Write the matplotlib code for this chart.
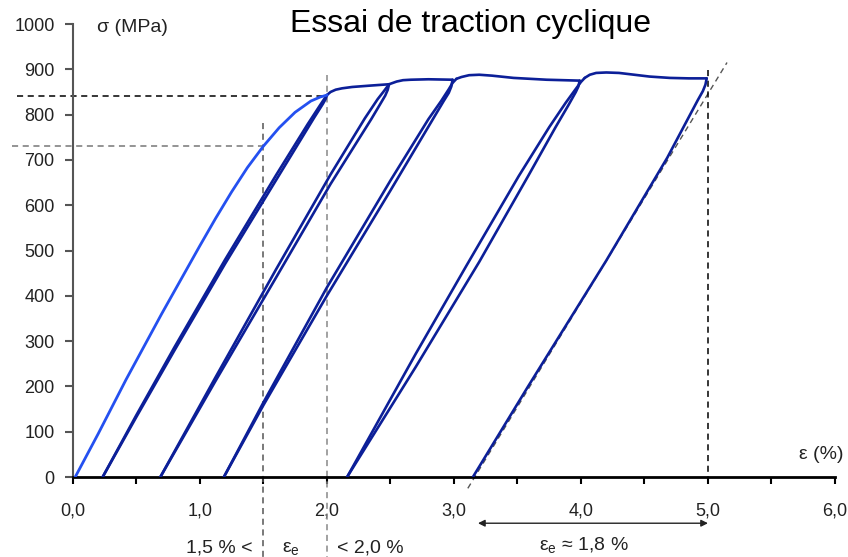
import matplotlib
matplotlib.use("Agg")
import matplotlib.pyplot as plt

plt.rcParams['font.family'] = ['Liberation Sans', 'DejaVu Sans']
plt.rcParams['mathtext.default'] = 'regular'

# first loading (light blue)
load1_eps = [0.02, 0.20, 0.42, 0.70, 1.00, 1.125, 1.25, 1.375, 1.50, 1.625, 1.75, 1.875, 1.95, 2.00]
load1_sig = [0, 95, 215, 360, 510, 571, 629, 683, 730, 771, 805, 830, 839, 843]

# unload / reload loops and plastic plateaus (dark blue)
unload1_eps = [2.00, 1.99, 1.97, 1.90, 1.60, 1.20, 0.80, 0.50, 0.236]
unload1_sig = [843, 834, 824, 793, 655, 471, 279, 132, 0]
reload1_eps = [0.236, 0.50, 0.80, 1.20, 1.60, 1.85, 1.95, 2.00]
reload1_sig = [0, 136, 286, 480, 666, 779, 822, 843]
plateau1_eps = [2.00, 2.03, 2.07, 2.12, 2.20, 2.34, 2.49]
plateau1_sig = [843, 850, 855, 858, 861, 864, 867]

unload2_eps = [2.49, 2.48, 2.46, 2.42, 2.35, 2.03, 1.60, 1.12, 0.69]
unload2_sig = [867, 855, 842, 823, 790, 647, 440, 210, 0]
reload2_eps = [0.69, 1.12, 1.60, 2.03, 2.30, 2.40, 2.45, 2.49]
reload2_sig = [0, 218, 458, 668, 792, 834, 852, 867]
plateau2_eps = [2.49, 2.51, 2.55, 2.60, 2.66, 2.80, 2.99]
plateau2_sig = [867, 869, 873, 876, 877, 878, 877]

unload3_eps = [2.99, 2.98, 2.96, 2.92, 2.50, 2.00, 1.50, 1.19]
unload3_sig = [877, 862, 848, 830, 632, 400, 158, 0]
reload3_eps = [1.19, 1.50, 2.00, 2.50, 2.80, 2.90, 2.96, 2.99, 3.02]
reload3_sig = [0, 164, 418, 654, 790, 830, 856, 870, 879]
plateau3_eps = [3.02, 3.06, 3.12, 3.20, 3.30, 3.47, 3.73, 3.99]
plateau3_sig = [879, 883, 887, 888, 886, 881, 877, 875]

unload4_eps = [3.99, 3.98, 3.96, 3.90, 3.80, 3.59, 3.20, 2.70, 2.16]
unload4_sig = [875, 862, 850, 820, 772, 667, 475, 243, 0]
reload4_eps = [2.16, 2.70, 3.10, 3.51, 3.75, 3.88, 3.95, 4.00, 4.03]
reload4_sig = [0, 272, 467, 664, 772, 826, 853, 872, 881]
plateau4_eps = [4.03, 4.07, 4.12, 4.20, 4.30, 4.42, 4.54, 4.70, 4.85, 4.99]
plateau4_sig = [881, 888, 892, 893, 892, 888, 884, 881, 880, 880]

unload5_eps = [4.99, 4.98, 4.96, 4.92, 4.68, 4.20, 3.58, 3.15]
unload5_sig = [880, 866, 852, 832, 705, 478, 198, 0]

# elastic tangent (dashed) at the last unload
tangent_eps = [3.11, 5.15]
tangent_sig = [-25, 915]

x_ticks = [0, 1, 2, 3, 4, 5, 6]
x_labels = ["0,0", "1,0", "2,0", "3,0", "4,0", "5,0", "6,0"]
y_ticks = list(range(0, 1001, 100))

light = '#2450f0'
dark = '#0c1f98'

fig = plt.figure(figsize=(8.48, 5.57), dpi=100)
ax = fig.add_axes([0.0857, 0.1436, 0.899, 0.8133])

ax.plot(load1_eps, load1_sig, color=light, lw=2.0, zorder=4, solid_joinstyle='round')
dark_segments = [
    (unload1_eps, unload1_sig), (reload1_eps, reload1_sig), (plateau1_eps, plateau1_sig),
    (unload2_eps, unload2_sig), (reload2_eps, reload2_sig), (plateau2_eps, plateau2_sig),
    (unload3_eps, unload3_sig), (reload3_eps, reload3_sig), (plateau3_eps, plateau3_sig),
    (unload4_eps, unload4_sig), (reload4_eps, reload4_sig), (plateau4_eps, plateau4_sig),
    (unload5_eps, unload5_sig),
]
for e, s in dark_segments:
    ax.plot(e, s, color=dark, lw=1.9, zorder=3, solid_joinstyle='round', solid_capstyle='round')

dash = (0, (4, 3))
ax.plot(tangent_eps, tangent_sig, color='#555555', lw=1, ls=dash, clip_on=False, zorder=2)

# guide lines
ax.plot([-0.44, 2.0], [842, 842], color='black', lw=1.1, ls=dash, clip_on=False)
ax.plot([-0.48, 1.53], [731, 731], color='#777777', lw=1.1, ls=dash, clip_on=False)
ax.plot([1.5, 1.5], [782, -180], color='#555555', lw=1.1, ls=dash, clip_on=False)
ax.plot([2.0, 2.0], [887, -180], color='#888888', lw=1.1, ls=dash, clip_on=False)
ax.plot([5.0, 5.0], [898, 0], color='black', lw=1.1, ls=dash, clip_on=False)

ax.set_xlim(0, 6)
ax.set_ylim(0, 1000)
ax.set_xticks(x_ticks)
ax.set_xticklabels(x_labels)
ax.set_xticks([0.5, 1.5, 2.5, 3.5, 4.5, 5.5], minor=True)
ax.set_yticks(y_ticks)

for side in ['top', 'right']:
    ax.spines[side].set_visible(False)
ax.spines['left'].set_color('#555555')
ax.spines['left'].set_linewidth(1.5)
ax.spines['bottom'].set_color('black')
ax.spines['bottom'].set_linewidth(2)

ax.tick_params(axis='y', direction='out', length=6, width=1.5, color='#555555',
               labelsize=13, pad=7, labelcolor='#222222')
ax.tick_params(axis='x', which='both', direction='out', length=5, width=1.5,
               labelsize=13, pad=13, labelcolor='#222222')

ax.text(0.19, 993, "σ (MPa)", fontsize=14, color='#222222', va='center', ha='left', clip_on=False)
ax.text(5.89, 49, "ε (%)", fontsize=14, color='#222222', va='center', ha='center', clip_on=False)
fig.text(0.555, 0.9425, "Essai de traction cyclique", fontsize=23, ha='center', va='baseline')

ax.text(1.42, -166, "1,5 % <", fontsize=14, color='#222222', ha='right', va='baseline', clip_on=False)
ax.text(1.645, -166, "ε$_e$", fontsize=14, color='#222222', ha='left', va='baseline', clip_on=False)
ax.text(2.08, -166, "< 2,0 %", fontsize=14, color='#222222', ha='left', va='baseline', clip_on=False)
ax.text(3.67, -162, "ε$_e$ ≈ 1,8 %", fontsize=14, color='#222222', ha='left', va='baseline', clip_on=False)
ax.annotate("", xy=(3.19, -102), xytext=(5.0, -102), annotation_clip=False,
            arrowprops=dict(arrowstyle='<|-|>', color='#222222', lw=1,
                            mutation_scale=10, shrinkA=0, shrinkB=0))

fig.savefig("out.png", dpi=100)
